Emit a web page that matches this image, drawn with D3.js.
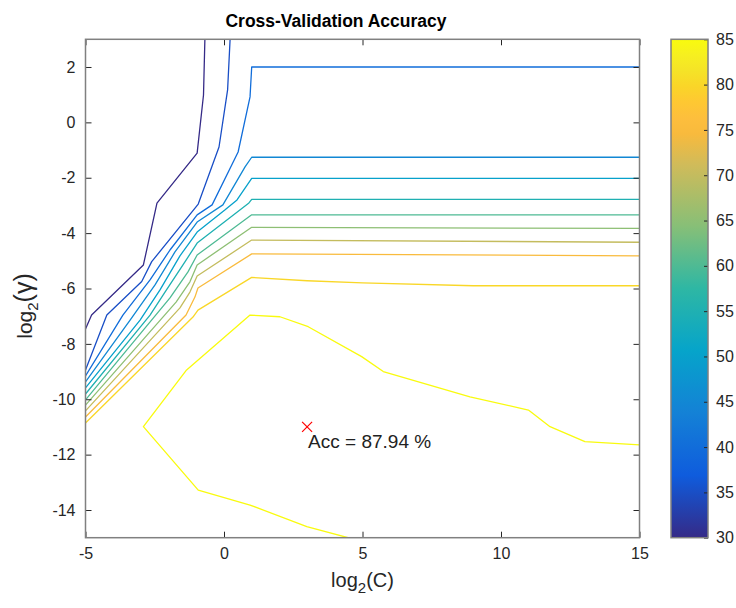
<!DOCTYPE html>
<html lang="en">
<head>
<meta charset="UTF-8">
<title>Cross-Validation Accuracy</title>
<script src="https://cdnjs.cloudflare.com/ajax/libs/d3/7.8.5/d3.min.js"></script>
<style>
    body { margin: 0; background: #fff; }
    text { font-family: "Liberation Sans", Arial, sans-serif; }
</style>
</head>
<body>
<svg width="736" height="608"></svg>
<script>
    // contour levels, accuracy in %
    const levels = [30, 35, 40, 45, 50, 55, 60, 65, 70, 75, 80, 85];

    // contour lines, [log2(C), log2(gamma)]
    const c30 = [[-0.69, 3], [-0.74, 0.99], [-0.97, -1.11], [-2.42, -2.92], [-2.91, -5.15], [-4.78, -6.96], [-5, -7.46]];
    const c35 = [[0.22, 3], [0.13, 1.17], [-0.18, -0.89], [-0.93, -2.95], [-2.61, -5.03], [-2.97, -5.75], [-4.23, -6.96], [-5, -8.94]];
    const c40 = [[15, 2], [1, 2], [0.94, 0.92], [0.51, -1.07], [-0.43, -2.98], [-0.97, -3.34], [-1.95, -4.61], [-2.67, -5.69], [-3.65, -6.96], [-5, -9.16]];
    const c45 = [[15, -1.26], [1, -1.26], [0.76, -1.61], [-0.04, -2.98], [-0.97, -3.6], [-1.77, -4.68], [-2.49, -5.87], [-3.39, -7.14], [-5, -9.37]];
    const c50 = [[15, -2.02], [1, -2.02], [0.47, -2.8], [0.04, -3.16], [-0.97, -3.96], [-1.59, -4.82], [-2.31, -6.05], [-3.03, -7.14], [-5, -9.59]];
    const c55 = [[15, -2.78], [1, -2.78], [0.9, -2.91], [-0.97, -4.36], [-1.41, -5.04], [-2.13, -6.13], [-2.67, -6.96], [-5, -9.81]];
    const c60 = [[15, -3.34], [1, -3.34], [-0.97, -4.79], [-1.3, -5.4], [-1.95, -6.34], [-5, -10.02]];
    const c65 = [[15, -3.83], [1, -3.79], [-0.97, -5.15], [-1.23, -5.76], [-1.73, -6.49], [-5, -10.21]];
    const c70 = [[15, -4.33], [1, -4.25], [-0.97, -5.55], [-1.23, -6.13], [-1.59, -6.7], [-5, -10.42]];
    const c75 = [[15, -4.82], [1, -4.75], [-0.94, -5.98], [-1.05, -6.31], [-1.37, -6.96], [-5, -10.64]];
    const c80 = [[15, -5.9], [9, -5.9], [5, -5.8], [3, -5.72], [1, -5.6], [-0.94, -6.78], [-1.12, -7.03], [-5, -10.86]];
    const c85 = [[4.48, -15], [2.99, -14.6], [0.94, -13.82], [-0.93, -13.28], [-2.91, -10.99], [-1.35, -8.94], [0.94, -6.96],
        [2.02, -7.02], [3.04, -7.38], [4.97, -8.46], [5.75, -9], [8.88, -9.91], [10.99, -10.39], [11.77, -10.99], [13.03, -11.53], [15, -11.65]];

    const xTicks = [-5, 0, 5, 10, 15];
    const yTicks = [-14, -12, -10, -8, -6, -4, -2, 0, 2];
    const cbTicks = [30, 35, 40, 45, 50, 55, 60, 65, 70, 75, 80, 85];

    // best point
    const bestC = 3;
    const bestG = -11;
    const bestAcc = 87.94;

    // parula colormap, position 0..1 -> colour
    const parulaPos = [0, 0.125, 0.25, 0.375, 0.5, 0.625, 0.75, 0.81, 0.84, 0.875, 0.905, 0.937, 0.968, 1];
    const parulaCol = ['#352a87', '#0f5cdd', '#1481d6', '#06a4ca', '#2eb7a4', '#87bf77', '#d1bb59',
        '#f8ba3d', '#fdbe3d', '#fec832', '#fad528', '#f5e327', '#f6ef20', '#f9fb0e'];

    const contours = [c30, c35, c40, c45, c50, c55, c60, c65, c70, c75, c80, c85]
        .map((pts, i) => ({level: levels[i], pts: pts}));

    const svg = d3.select('svg');
    const pLeft = 85.5, pRight = 639.5, pTop = 39.3, pBottom = 537.7;

    const x = d3.scaleLinear().domain([-5, 15]).range([pLeft, pRight]);
    const y = d3.scaleLinear().domain([-15, 3]).range([pBottom, pTop]);

    const cbRange = [30, 85];
    const color = d3.scaleLinear()
        .domain(parulaPos.map(t => cbRange[0] + t * (cbRange[1] - cbRange[0])))
        .range(parulaCol)
        .interpolate(d3.interpolateRgb)
        .clamp(true);

    svg.append('clipPath').attr('id', 'plot-clip')
        .append('rect')
        .attr('x', pLeft).attr('y', pTop)
        .attr('width', pRight - pLeft).attr('height', pBottom - pTop);

    const line = d3.line().x(d => x(d[0])).y(d => y(d[1]));

    svg.append('g')
        .attr('clip-path', 'url(#plot-clip)')
        .selectAll('path')
        .data(contours)
        .join('path')
        .attr('d', d => line(d.pts))
        .attr('fill', 'none')
        .attr('stroke', d => color(d.level))
        .attr('stroke-width', 1.3)
        .attr('stroke-linejoin', 'round');

    // axes, ticks point inwards like matlab
    const tickColor = '#262626';
    const styleAxis = g => {
        g.select('.domain').remove();
        g.selectAll('.tick line').attr('stroke', tickColor).attr('stroke-width', 1);
        g.selectAll('.tick text')
            .attr('fill', tickColor)
            .attr('font-size', '16px')
            .attr('font-family', '"Liberation Sans", Arial, sans-serif');
    };

    svg.append('g')
        .attr('transform', `translate(0,${pBottom})`)
        .call(d3.axisBottom(x).tickValues(xTicks).tickSizeInner(-6).tickSizeOuter(0).tickPadding(10).tickFormat(d => String(d)))
        .call(styleAxis);
    svg.append('g')
        .attr('transform', `translate(0,${pTop})`)
        .call(d3.axisTop(x).tickValues(xTicks).tickSizeInner(-6).tickSizeOuter(0).tickFormat(''))
        .call(styleAxis);
    svg.append('g')
        .attr('transform', `translate(${pLeft},0)`)
        .call(d3.axisLeft(y).tickValues(yTicks).tickSizeInner(-6).tickSizeOuter(0).tickPadding(10).tickFormat(d => String(d)))
        .call(styleAxis);
    svg.append('g')
        .attr('transform', `translate(${pRight},0)`)
        .call(d3.axisRight(y).tickValues(yTicks).tickSizeInner(-6).tickSizeOuter(0).tickFormat(''))
        .call(styleAxis);

    svg.append('rect')
        .attr('x', pLeft).attr('y', pTop)
        .attr('width', pRight - pLeft).attr('height', pBottom - pTop)
        .attr('fill', 'none')
        .attr('stroke', '#808080')
        .attr('stroke-width', 1.5);

    // best accuracy marker
    const bx = x(bestC), by = y(bestG);
    svg.append('path')
        .attr('d', `M${bx - 5},${by - 5}L${bx + 5},${by + 5}M${bx - 5},${by + 5}L${bx + 5},${by - 5}`)
        .attr('stroke', '#ff0000')
        .attr('stroke-width', 1.2);
    svg.append('text')
        .attr('x', bx + 1)
        .attr('y', by + 21)
        .attr('font-size', '19px')
        .attr('fill', '#222')
        .text(`Acc = ${bestAcc} %`);

    // title and labels
    svg.append('text')
        .attr('x', 336)
        .attr('y', 27)
        .attr('text-anchor', 'middle')
        .attr('font-size', '17.5px')
        .attr('font-weight', 'bold')
        .attr('fill', '#000')
        .text('Cross-Validation Accuracy');

    const xl = svg.append('text')
        .attr('x', (pLeft + pRight) / 2)
        .attr('y', 587)
        .attr('text-anchor', 'middle')
        .attr('font-size', '20px')
        .attr('fill', tickColor);
    xl.append('tspan').text('log');
    xl.append('tspan').attr('dy', 6).attr('font-size', '15px').text('2');
    xl.append('tspan').attr('dy', -6).text('(C)');

    const yl = svg.append('text')
        .attr('transform', 'translate(32,306) rotate(-90)')
        .attr('text-anchor', 'middle')
        .attr('font-size', '21px')
        .attr('fill', tickColor);
    yl.append('tspan').text('log');
    yl.append('tspan').attr('dy', 6).attr('font-size', '15px').text('2');
    yl.append('tspan').attr('dy', -6).attr('font-size', '25px').text('(\u03B3)');

    // colorbar
    const cbLeft = 671, cbRight = 708;
    const cy = d3.scaleLinear().domain(cbRange).range([pBottom, pTop]);
    const grad = svg.append('defs').append('linearGradient')
        .attr('id', 'parula')
        .attr('x1', 0).attr('y1', 1).attr('x2', 0).attr('y2', 0);
    grad.selectAll('stop')
        .data(color.domain())
        .join('stop')
        .attr('offset', d => (d - cbRange[0]) / (cbRange[1] - cbRange[0]))
        .attr('stop-color', d => color(d));

    svg.append('rect')
        .attr('x', cbLeft).attr('y', pTop)
        .attr('width', cbRight - cbLeft).attr('height', pBottom - pTop)
        .attr('fill', 'url(#parula)');

    svg.append('g')
        .attr('transform', `translate(${cbRight},0)`)
        .call(d3.axisRight(cy).tickValues(cbTicks).tickSizeInner(-4).tickSizeOuter(0).tickPadding(8).tickFormat(d => String(d)))
        .call(styleAxis);

    svg.append('rect')
        .attr('x', cbLeft).attr('y', pTop)
        .attr('width', cbRight - cbLeft).attr('height', pBottom - pTop)
        .attr('fill', 'none')
        .attr('stroke', '#808080')
        .attr('stroke-width', 1.5);
</script>
</body>
</html>
